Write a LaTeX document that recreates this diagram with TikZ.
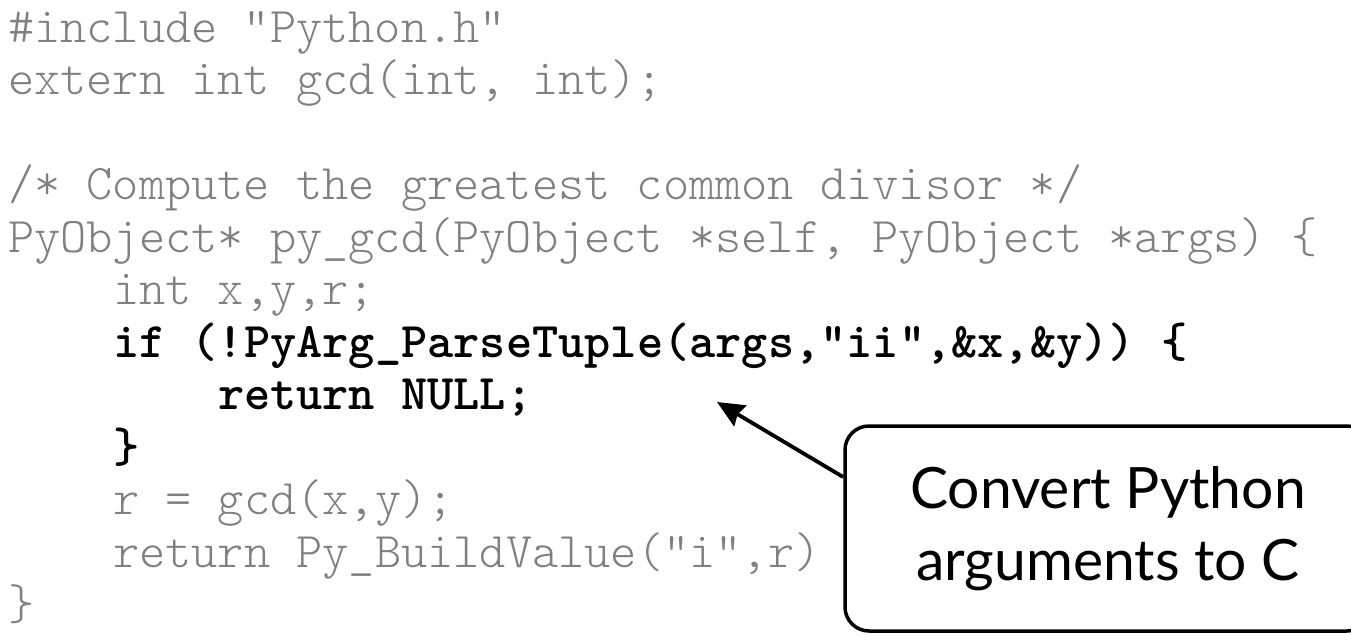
\documentclass[tikz,border=0pt]{standalone}
\usepackage{fontspec}
\newfontfamily\notefont{Lato}
\usetikzlibrary{arrows.meta}
\definecolor{codegray}{RGB}{128,128,128}
\tikzset{
  code/.style={anchor=base west, inner sep=0pt, text=codegray, font=\ttfamily\fontseries{l}\fontsize{49.9}{52.5}\selectfont},
  hot/.style={code, text=black, font=\ttfamily\bfseries\fontsize{49.9}{52.5}\selectfont},
  notebox/.style={draw, line width=3.5pt, rounded corners=24pt, minimum width=526pt, minimum height=205pt, inner sep=0pt},
  notetext/.style={anchor=base, inner sep=0pt, font=\notefont\fontsize{57}{72}\selectfont},
  pointer/.style={line width=3.8pt, -{Stealth[length=27pt, width=24pt, inset=3pt]}},
}

\begin{document}
\begin{tikzpicture}[x=1pt, y=-1pt]
        \useasboundingbox (0,0) rectangle (1351,640);
        % header
        \node[code] (l1) at (8,42) {\#include "Python.h"};
        \node[code] (l2) at (8,94.5) {extern int gcd(int, int);};
        % function
        \node[code] (l4) at (8,199.5) {/* Compute the greatest common divisor */};
        \node[code] (l5) at (8,252) {PyObject* py\_gcd(PyObject *self, PyObject *args) \{};
        \node[code] (l6) at (112.9,304.5) {int x,y,r;};
        \node[hot] (l7) at (112.9,357) {if (!PyArg\_ParseTuple(args,"ii",\&x,\&y)) \{};
        \node[hot] (l8) at (217.8,409.5) {return NULL;};
        \node[hot] (l9) at (112.9,462) {\}};
        \node[code] (l10) at (112.9,514.5) {r = gcd(x,y);};
        \node[code] (l11) at (112.9,567) {return Py\_BuildValue("i",r)};
        \node[code] (l12) at (8,619.5) {\}};
        % callout
        \node[notebox] (note) at (1108,528.5) {};
        \node[notetext] (note1) at (1108,508) {Convert Python};
        \node[notetext] (note2) at (1108,580) {arguments to C};
        \coordinate (nulltip) at (717,402);
        \draw[pointer] (note.169) -- (nulltip);
\end{tikzpicture}
\end{document}
